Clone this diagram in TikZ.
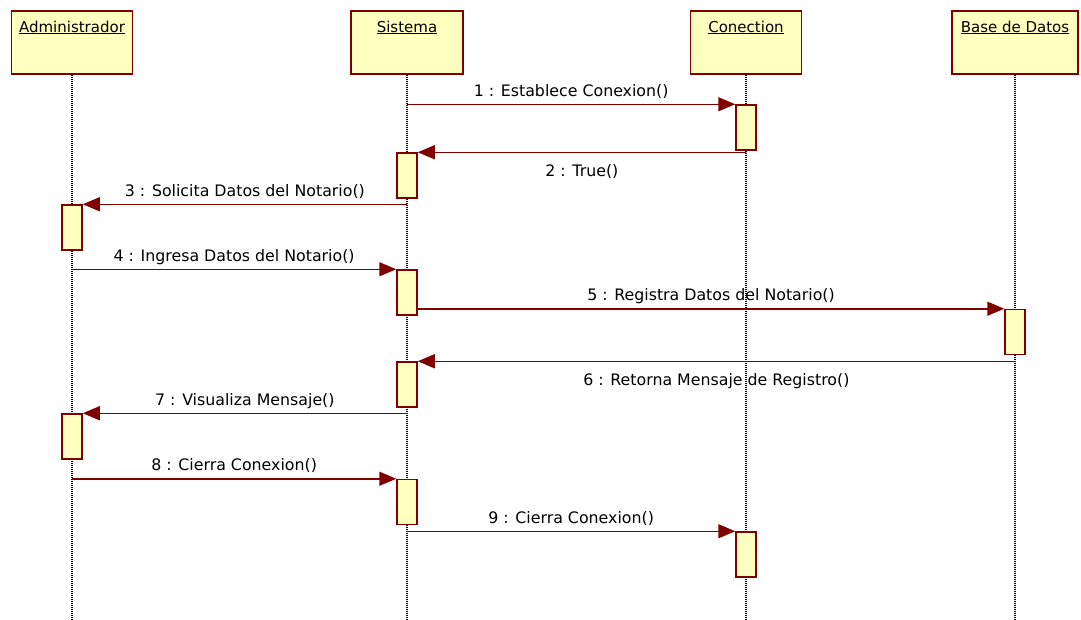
\documentclass[tikz,border=0pt]{standalone}
\usepackage{fontspec}
\setmainfont{DejaVu Sans}
\usetikzlibrary{arrows.meta}
\definecolor{umlred}{RGB}{128,0,0}
\definecolor{umlfill}{RGB}{255,255,192}

\begin{document}
\begin{tikzpicture}[x=1pt, y=-1pt,
  every node/.style={font=\fontsize{15}{18}\selectfont},
  obj/.style={draw=umlred, fill=umlfill, line width=1.5pt, minimum height=63pt, anchor=north, inner sep=0pt},
  act/.style={draw=umlred, fill=umlfill, line width=1.5pt, minimum width=20pt, minimum height=45pt, inner sep=0pt},
  life/.style={line width=1.2pt, dash pattern=on 1pt off 1pt},
  msg/.style={draw=umlred, line width=1.5pt, -{Triangle[length=17pt, width=14pt]}},
  up/.style={midway, anchor=base, yshift=8pt, font=\fontsize{15.8}{18}\selectfont},
  down/.style={midway, anchor=base, yshift=-24pt, font=\fontsize{15.8}{18}\selectfont}]
  \useasboundingbox (0,0) rectangle (1081,619);

  % objects
  \node[obj, minimum width=121pt, label={[anchor=base, yshift=-22pt]north:\underline{Administrador}}] (adm) at (72,10) {};
  \node[obj, minimum width=112pt, label={[anchor=base, yshift=-22pt]north:\underline{Sistema}}] (sis) at (407,10) {};
  \node[obj, minimum width=111pt, label={[anchor=base, yshift=-22pt]north:\underline{Conection}}] (con) at (746,10) {};
  \node[obj, minimum width=126pt, label={[anchor=base, yshift=-22pt]north:\underline{Base de Datos}}] (bd) at (1015,10) {};

  % lifelines
  \coordinate (admend) at (72,619);
  \coordinate (sisend) at (407,619);
  \coordinate (conend) at (746,619);
  \coordinate (bdend) at (1015,619);
  \draw[life] (adm) -- (admend);
  \draw[life] (sis) -- (sisend);
  \draw[life] (con) -- (conend);
  \draw[life] (bd) -- (bdend);

  % activations
  \node[act] (con1) at (746,127.5) {};
  \node[act] (sis1) at (407,175.5) {};
  \node[act] (adm1) at (72,227.5) {};
  \node[act] (sis2) at (407,292.5) {};
  \node[act] (bd1) at (1015,332) {};
  \node[act] (sis3) at (407,384.5) {};
  \node[act] (adm2) at (72,436.5) {};
  \node[act] (sis4) at (407,502) {};
  \node[act] (con2) at (746,554.5) {};

  % messages
  \draw[msg] (con1.north west -| sis) -- node[up] {1 : Establece Conexion()} (con1.north west);
  \draw[msg] (sis1.north east -| con) -- node[down] {2 : True()} (sis1.north east);
  \draw[msg] (adm1.north east -| sis) -- node[up] {3 : Solicita Datos del Notario()} (adm1.north east);
  \draw[msg] (sis2.north west -| adm) -- node[up] {4 : Ingresa Datos del Notario()} (sis2.north west);
  \draw[msg] (bd1.north west -| sis2.east) -- node[up] {5 : Registra Datos del Notario()} (bd1.north west);
  \draw[msg] (sis3.north east -| bd) -- node[down] {6 : Retorna Mensaje de Registro()} (sis3.north east);
  \draw[msg] (adm2.north east -| sis) -- node[up] {7 : Visualiza Mensaje()} (adm2.north east);
  \draw[msg] (sis4.north west -| adm) -- node[up] {8 : Cierra Conexion()} (sis4.north west);
  \draw[msg] (con2.north west -| sis) -- node[up] {9 : Cierra Conexion()} (con2.north west);
\end{tikzpicture}
\end{document}
